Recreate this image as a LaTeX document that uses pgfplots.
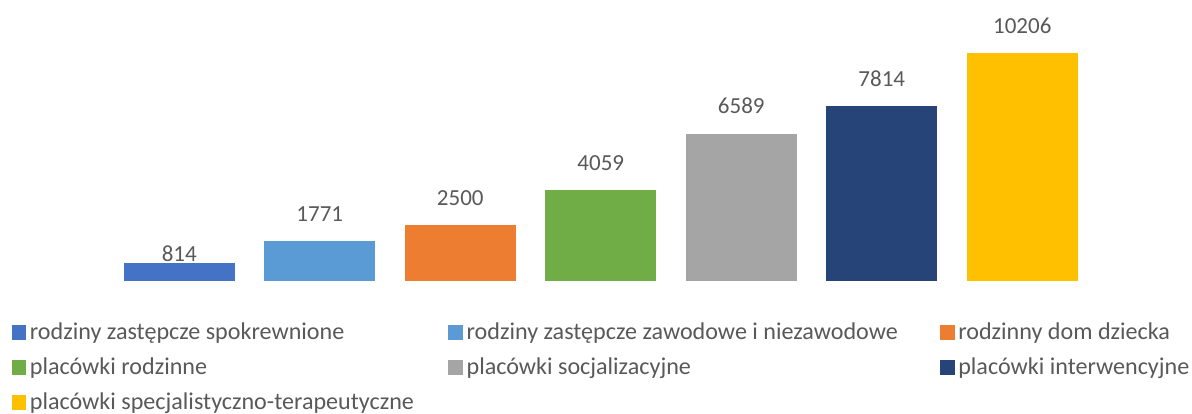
\documentclass[border=0pt]{standalone}
\usepackage{pgfplots}
\pgfplotsset{compat=1.18}
\usepackage{fontspec}
\setmainfont{Carlito}
\definecolor{c1}{HTML}{4472C4}
\definecolor{c2}{HTML}{5B9BD5}
\definecolor{c3}{HTML}{ED7D31}
\definecolor{c4}{HTML}{70AD47}
\definecolor{c5}{HTML}{A5A5A5}
\definecolor{c6}{HTML}{264478}
\definecolor{c7}{HTML}{FFC000}
\definecolor{txt}{HTML}{595959}
\begin{document}
\begin{tikzpicture}
\useasboundingbox (0,0) rectangle (1192pt,414pt);
\begin{axis}[
  at={(109pt,133pt)}, anchor=south west,
  scale only axis, width=983.5pt, height=245.7pt,
  xmin=-0.5, xmax=6.5, ymin=0, ymax=11000,
  axis lines=none, clip=false,
  ybar, bar width=111pt, bar shift=0pt,
  /pgf/number format/assume math mode=true,
  /pgf/number format/1000 sep={},
  nodes near coords,
  nodes near coords style={font=\fontsize{23}{27}\selectfont, text=txt, anchor=base, inner sep=0pt, yshift=20pt},
  legend columns=3,
  legend style={draw=none, fill=none, at={(axis description cs:-0.0991,-0.1796)}, anchor=north west,
    font=\fontsize{24.1}{28}\selectfont, text=txt, inner sep=0pt, row sep=18.5pt,
    nodes={inner xsep=3.5pt, inner ysep=0pt, text depth=0.25em, text height=0.75em}},
  legend cell align=left,
  legend image code/.code={\fill[#1,draw=none] (0pt,-3.3pt) rectangle (14.7pt,11.4pt);},
]
\addplot[fill=c1, draw=none, nodes near coords style={yshift=-18.7pt}] coordinates {(0,814)};
\addlegendentry{\makebox[415pt][l]{rodziny zastępcze spokrewnione}}
\addplot[fill=c2, draw=none] coordinates {(1,1771)};
\addlegendentry{\makebox[470pt][l]{rodziny zastępcze zawodowe i niezawodowe}}
\addplot[fill=c3, draw=none] coordinates {(2,2500)};
\addlegendentry{rodzinny dom dziecka}
\addplot[fill=c4, draw=none] coordinates {(3,4059)};
\addlegendentry{\makebox[415pt][l]{placówki rodzinne}}
\addplot[fill=c5, draw=none] coordinates {(4,6589)};
\addlegendentry{\makebox[470pt][l]{placówki socjalizacyjne}}
\addplot[fill=c6, draw=none] coordinates {(5,7814)};
\addlegendentry{placówki interwencyjne}
\addplot[fill=c7, draw=none] coordinates {(6,10206)};
\addlegendentry{\makebox[415pt][l]{placówki specjalistyczno-terapeutyczne}}
\end{axis}
\end{tikzpicture}
\end{document}
